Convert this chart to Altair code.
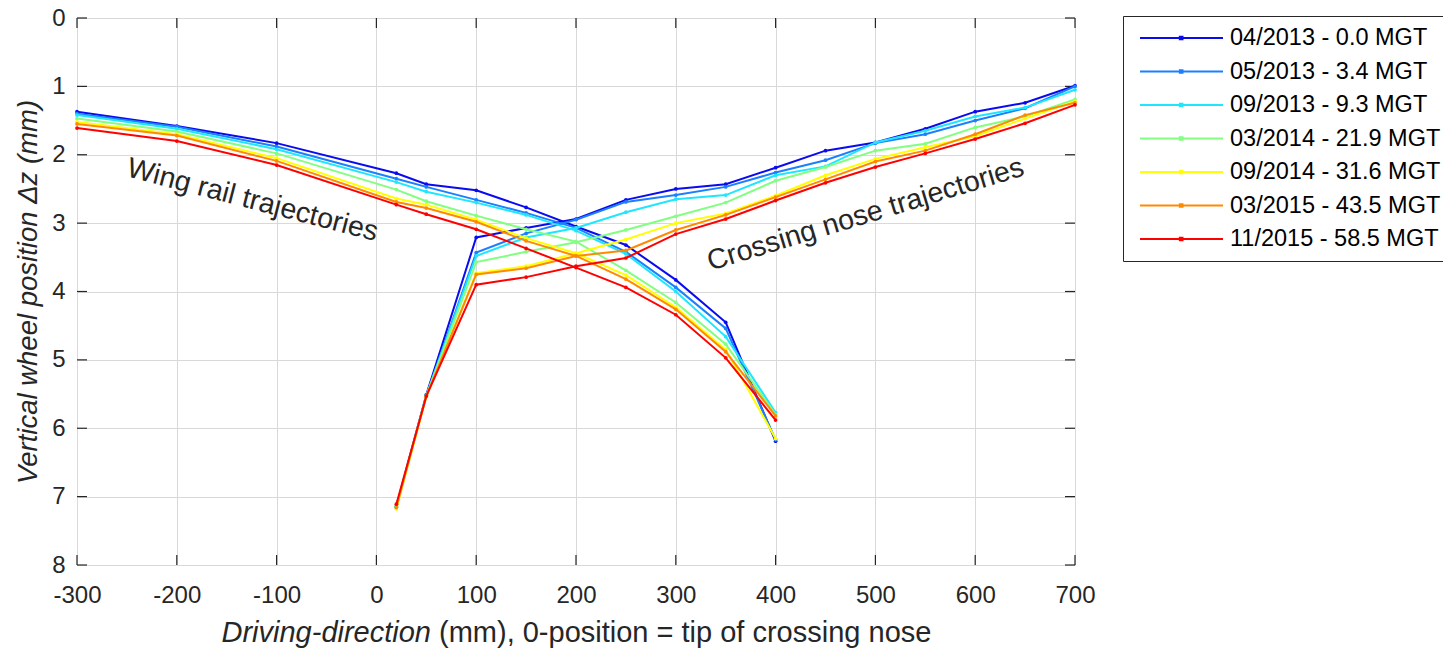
import altair as alt
import pandas as pd

# ---------------- data ----------------
series_names = [
    "04/2013 - 0.0 MGT",
    "05/2013 - 3.4 MGT",
    "09/2013 - 9.3 MGT",
    "03/2014 - 21.9 MGT",
    "09/2014 - 31.6 MGT",
    "03/2015 - 43.5 MGT",
    "11/2015 - 58.5 MGT",
]
series_colors = ["#0a0af0", "#1a80ff", "#1ee6ff", "#80ff80", "#ffff00", "#ff8a00", "#ff0000"]

x_wing = [-300, -200, -100, 20, 50, 100, 150, 200, 250, 300, 350, 400]
x_nose = [20, 50, 100, 150, 200, 250, 300, 350, 400, 450, 500, 550, 600, 650, 700]

wing_042013 = [1.37, 1.58, 1.83, 2.27, 2.43, 2.52, 2.77, 3.05, 3.32, 3.83, 4.45, 6.19]
wing_052013 = [1.40, 1.59, 1.88, 2.35, 2.47, 2.66, 2.85, 3.07, 3.42, 3.94, 4.54, 6.17]
wing_092013 = [1.42, 1.62, 1.92, 2.40, 2.54, 2.70, 2.88, 3.11, 3.45, 4.00, 4.66, 5.77]
wing_032014 = [1.47, 1.66, 1.98, 2.51, 2.68, 2.89, 3.09, 3.27, 3.69, 4.16, 4.77, 5.80]
wing_092014 = [1.52, 1.70, 2.05, 2.64, 2.73, 2.95, 3.22, 3.44, 3.76, 4.23, 4.85, 6.15]
wing_032015 = [1.55, 1.72, 2.09, 2.69, 2.78, 2.98, 3.26, 3.48, 3.82, 4.26, 4.88, 5.82]
wing_112015 = [1.61, 1.80, 2.15, 2.73, 2.87, 3.09, 3.37, 3.65, 3.94, 4.34, 4.97, 5.88]

nose_042013 = [7.15, 5.51, 3.21, 3.07, 2.94, 2.66, 2.50, 2.43, 2.19, 1.94, 1.82, 1.62, 1.37, 1.24, 0.99]
nose_052013 = [7.15, 5.52, 3.43, 3.15, 2.95, 2.69, 2.59, 2.47, 2.26, 2.08, 1.83, 1.70, 1.50, 1.32, 1.00]
nose_092013 = [7.14, 5.52, 3.48, 3.21, 3.07, 2.84, 2.65, 2.59, 2.30, 2.17, 1.82, 1.65, 1.44, 1.31, 1.05]
nose_032014 = [7.14, 5.53, 3.57, 3.42, 3.28, 3.10, 2.90, 2.70, 2.38, 2.18, 1.94, 1.84, 1.60, 1.44, 1.19]
nose_092014 = [7.18, 5.54, 3.73, 3.63, 3.44, 3.24, 3.00, 2.86, 2.60, 2.30, 2.06, 1.89, 1.73, 1.47, 1.22]
nose_032015 = [7.16, 5.53, 3.75, 3.66, 3.48, 3.40, 3.10, 2.88, 2.62, 2.36, 2.10, 1.94, 1.70, 1.42, 1.24]
nose_112015 = [7.11, 5.53, 3.90, 3.79, 3.63, 3.51, 3.16, 2.94, 2.67, 2.41, 2.18, 1.98, 1.77, 1.54, 1.27]

x_ticks = [-300, -200, -100, 0, 100, 200, 300, 400, 500, 600, 700]
y_ticks = [0, 1, 2, 3, 4, 5, 6, 7, 8]

annot_text = ["Wing rail trajectories", "Crossing nose trajectories"]
annot_x = [-124, 490]
annot_y = [2.66, 2.87]
annot_angle = [14.6, 343.1]

x_title_italic = "Driving-direction"
x_title_rest = "(mm), 0-position = tip of crossing nose"
y_title = "Vertical wheel position \u0394z (mm)"

# ---------------- layout constants ----------------
W, H = 998, 547
FONT = "Liberation Sans, Arial, Helvetica, sans-serif"
TXT = "#262626"

wings = [wing_042013, wing_052013, wing_092013, wing_032014, wing_092014, wing_032015, wing_112015]
noses = [nose_042013, nose_052013, nose_092013, nose_032014, nose_092014, nose_032015, nose_112015]

rows = []
for name, wv, nv in zip(series_names, wings, noses):
    for xv, yv in zip(x_wing, wv):
        rows.append({"series": name, "part": "wing", "x": xv, "y": yv})
    for xv, yv in zip(x_nose, nv):
        rows.append({"series": name, "part": "nose", "x": xv, "y": yv})
df = pd.DataFrame(rows)

xscale = alt.Scale(domain=[-300, 700], nice=False, zero=False)
yscale = alt.Scale(domain=[0, 8], nice=False, zero=False, reverse=True)
cscale = alt.Scale(domain=series_names, range=series_colors)

legend = alt.Legend(
    title=None,
    orient="none",
    legendX=1046,
    legendY=-2,
    symbolType="M-0.865,0H1M0.03,-0.03H0.09V0.03H0.03Z",
    symbolSize=7921,
    symbolStrokeWidth=2,
    clipHeight=24,
    rowPadding=9.5,
    labelOffset=6,
    labelFontSize=23.5,
    labelFont=FONT,
    labelColor="#000000",
    strokeColor="#262626",
    fillColor="#ffffff",
    padding=10,
    labelLimit=400,
)

layers = []

# inner tick marks (MATLAB style, on all four sides)
xt = pd.DataFrame({"t": x_ticks})
yt = pd.DataFrame({"t": y_ticks})
tick_color = "#262626"
layers.append(alt.Chart(xt).mark_rule(color=tick_color, strokeWidth=1.2).encode(
    x=alt.X("t:Q", scale=xscale), y=alt.value(H), y2=alt.value(H - 10)))
layers.append(alt.Chart(xt).mark_rule(color=tick_color, strokeWidth=1.2).encode(
    x=alt.X("t:Q", scale=xscale), y=alt.value(0), y2=alt.value(10)))
layers.append(alt.Chart(yt).mark_rule(color=tick_color, strokeWidth=1.2).encode(
    y=alt.Y("t:Q", scale=yscale), x=alt.value(0), x2=alt.value(10)))
layers.append(alt.Chart(yt).mark_rule(color=tick_color, strokeWidth=1.2).encode(
    y=alt.Y("t:Q", scale=yscale), x=alt.value(W), x2=alt.value(W - 10)))

for name in series_names:
    sub = df[df["series"] == name]
    layers.append(
        alt.Chart(sub).mark_line(
            strokeWidth=2,
            point=alt.OverlayMarkDef(filled=True, size=14, opacity=1),
        ).encode(
            x=alt.X("x:Q", scale=xscale,
                    axis=alt.Axis(values=x_ticks, title=None, grid=True, domain=False,
                                  ticks=False, labelFontSize=24, labelPadding=18,
                                  labelFont=FONT, labelColor=TXT, gridColor="#d9d9d9",
                                  gridWidth=1, labelFlush=False, labelOverlap=False,
                                  labelExpr="'' + datum.value")),
            y=alt.Y("y:Q", scale=yscale,
                    axis=alt.Axis(values=y_ticks, title=y_title, grid=True, domain=False,
                                  ticks=False, labelFontSize=24, labelPadding=12,
                                  labelFont=FONT, labelColor=TXT, gridColor="#d9d9d9",
                                  gridWidth=1, labelFlush=False, labelOverlap=False,
                                  labelExpr="'' + datum.value",
                                  titleFont=FONT, titleFontSize=27.5,
                                  titleFontStyle="italic", titleFontWeight="normal",
                                  titleColor=TXT, titleX=-35, titleY=H / 2,
                                  titleAngle=270, titleBaseline="bottom",
                                  titleAlign="center")),
            color=alt.Color("series:N", scale=cscale, legend=legend),
            detail="part:N",
        )
    )

# in-plot annotations
for t, ax, ay, ang in zip(annot_text, annot_x, annot_y, annot_angle):
    adf = pd.DataFrame({"t": [t], "x": [ax], "y": [ay]})
    layers.append(alt.Chart(adf).mark_text(
        font=FONT, fontSize=28.5, color=TXT, angle=ang, align="center", baseline="middle"
    ).encode(x=alt.X("x:Q", scale=xscale), y=alt.Y("y:Q", scale=yscale), text="t:N"))

# x-axis title with mixed italic/normal
layers.append(alt.Chart(pd.DataFrame({"t": [x_title_italic]})).mark_text(
    font=FONT, fontSize=29, fontStyle="italic", color=TXT, align="right", baseline="alphabetic"
).encode(x=alt.value(354), y=alt.value(624), text="t:N"))
layers.append(alt.Chart(pd.DataFrame({"t": [x_title_rest]})).mark_text(
    font=FONT, fontSize=29, color=TXT, align="left", baseline="alphabetic"
).encode(x=alt.value(362), y=alt.value(624), text="t:N"))

chart = alt.layer(*layers).properties(
    width=W, height=H,
    autosize=alt.AutoSizeParams(type="none"),
    padding={"left": 77, "top": 18, "right": 368, "bottom": 83},
).configure_view(
    stroke="#262626", strokeWidth=1.5
).configure(background="#ffffff")

chart.save("out.html", embed_options={"renderer": "svg", "actions": False})
